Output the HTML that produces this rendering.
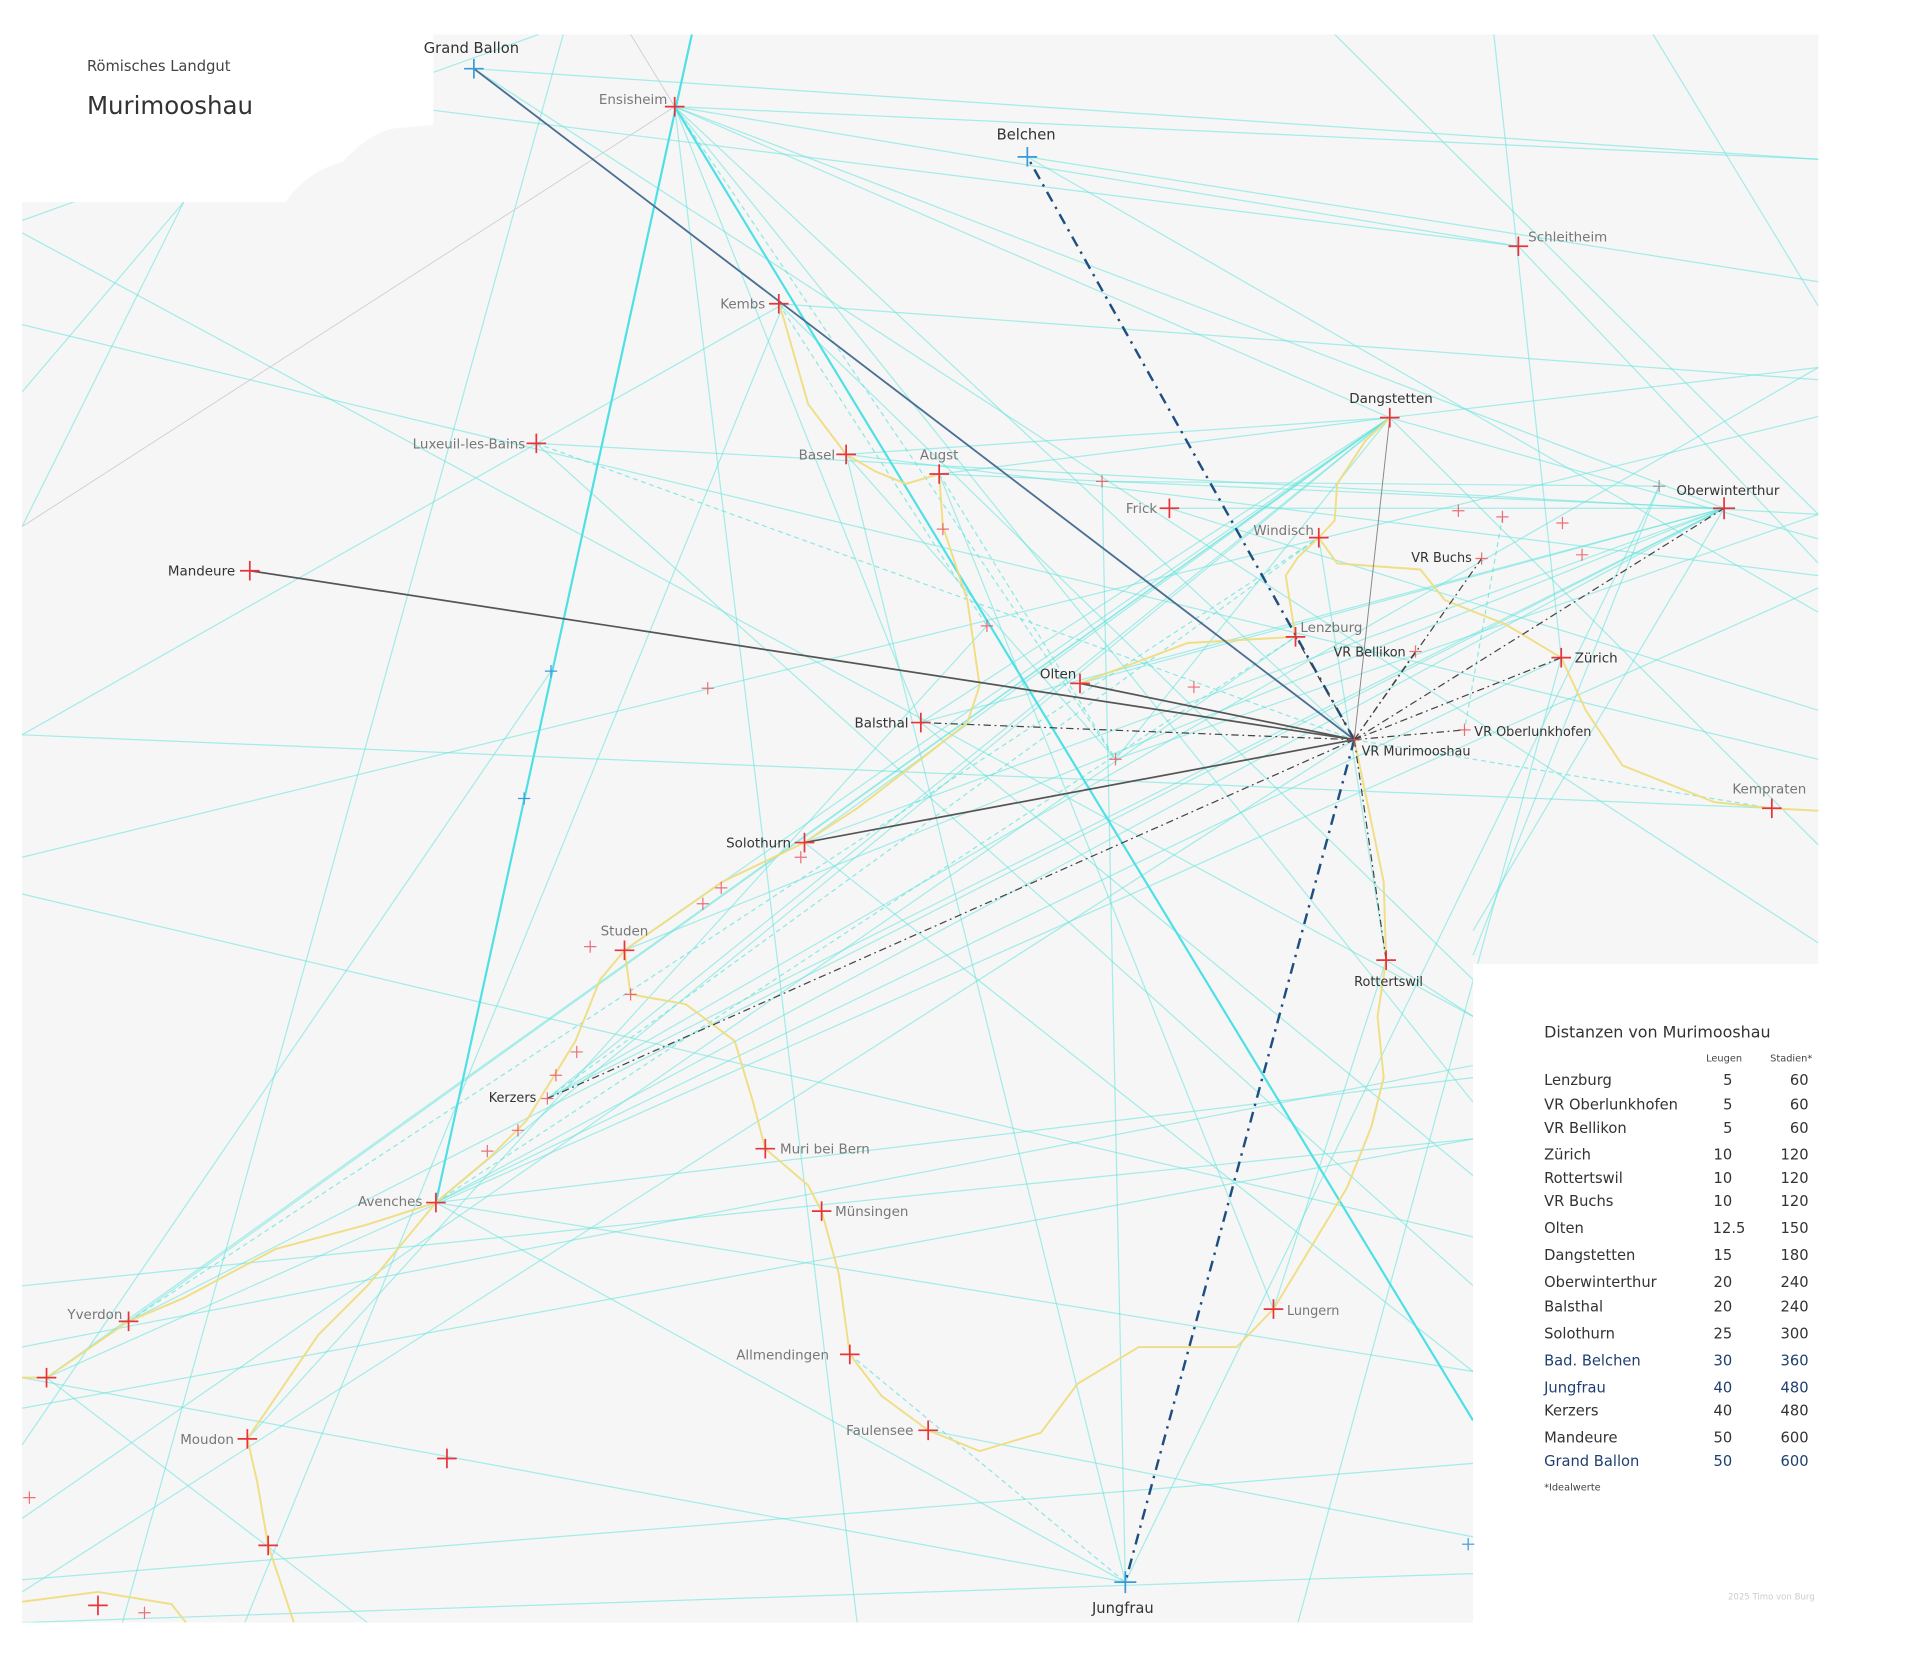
<!DOCTYPE html>
<html><head><meta charset="utf-8"><style>
html,body{margin:0;padding:0;background:#fff;}
svg{display:block;font-family:"DejaVu Sans","Liberation Sans",sans-serif;}
.l{fill:#777;font-size:11px}
.d{fill:#333;font-size:11px}
.c{stroke:#5fe3dc;stroke-width:1;opacity:.55;fill:none}
.cd{stroke:#5fe3dc;stroke-width:1;stroke-dasharray:4 3;opacity:.7;fill:none}
.y{stroke:#f0dc7a;stroke-width:1.6;fill:none;opacity:.9}
.r{stroke:#e8333a;stroke-width:1.4}
.rs{stroke:#e8505a;stroke-width:1;opacity:.8}
.b{stroke:#3a9ad9;stroke-width:1.4}
.g{stroke:#444;stroke-width:1;stroke-dasharray:6 3 1.5 3;fill:none}
.t{font-size:12px;fill:#333}
.tb{font-size:12px;fill:#1f3f70}
</style></head><body>
<svg width="1920" height="1679" viewBox="0 0 1568 1371" xmlns="http://www.w3.org/2000/svg">
<defs><clipPath id="m"><path d="M18,165 L233,165 Q250,140 280,132 Q300,110 320,105 L354,102 L354,28 L1485,28 L1485,787 L1203,787 L1203,1325 L18,1325 Z"/></clipPath></defs>
<path d="M18,165 L233,165 Q250,140 280,132 Q300,110 320,105 L354,102 L354,28 L1485,28 L1485,787 L1203,787 L1203,1325 L18,1325 Z" fill="#f6f6f6"/>
<g clip-path="url(#m)">
<line class="c" x1="18" y1="190" x2="1203" y2="830"/>
<line class="c" x1="18" y1="265" x2="1485" y2="620"/>
<line class="c" x1="18" y1="730" x2="1203" y2="1010"/>
<line class="c" x1="18" y1="1290" x2="1203" y2="1195"/>
<line class="c" x1="18" y1="700" x2="1485" y2="340"/>
<line class="c" x1="18" y1="1100" x2="1203" y2="870"/>
<line class="c" x1="18" y1="1150" x2="1203" y2="930"/>
<line class="c" x1="1090" y1="28" x2="1485" y2="420"/>
<line class="c" x1="1220" y1="28" x2="1275" y2="537"/>
<line class="c" x1="1350" y1="28" x2="1485" y2="250"/>
<line class="c" x1="18" y1="430" x2="150" y2="165"/>
<line class="c" x1="18" y1="320" x2="150" y2="165"/>
<line class="c" x1="18" y1="600" x2="640" y2="248"/>
<line class="c" x1="18" y1="1125" x2="919" y2="1292"/>
<line class="c" x1="38" y1="1125" x2="300" y2="1325"/>
<line class="c" x1="200" y1="1325" x2="640" y2="248"/>
<line class="c" x1="100" y1="1325" x2="460" y2="28"/>
<line class="c" x1="356" y1="982" x2="919" y2="1292"/>
<line class="c" x1="919" y1="1292" x2="900" y2="393"/>
<line class="c" x1="919" y1="1292" x2="691" y2="371"/>
<line class="c" x1="919" y1="1292" x2="1355" y2="397"/>
<line class="c" x1="18" y1="1325" x2="1203" y2="1285"/>
<line class="c" x1="758" y1="1168" x2="1203" y2="1255"/>
<line class="c" x1="438" y1="362" x2="1203" y2="1050"/>
<line class="c" x1="387" y1="56" x2="1485" y2="770"/>
<line class="c" x1="387" y1="56" x2="1485" y2="130"/>
<line class="c" x1="354" y1="90" x2="1240" y2="201"/>
<line class="c" x1="551" y1="87" x2="1485" y2="130"/>
<line class="c" x1="551" y1="87" x2="1240" y2="201"/>
<line class="c" x1="551" y1="87" x2="1408" y2="415"/>
<line class="c" x1="551" y1="87" x2="1135" y2="341"/>
<line class="c" x1="551" y1="87" x2="1106" y2="604"/>
<line class="c" x1="551" y1="87" x2="1203" y2="900"/>
<line class="c" x1="551" y1="87" x2="752" y2="590"/>
<line class="cd" x1="551" y1="87" x2="911" y2="620"/>
<line class="c" x1="551" y1="87" x2="700" y2="1325"/>
<line class="c" x1="839" y1="128" x2="1485" y2="230"/>
<line class="c" x1="839" y1="128" x2="1485" y2="500"/>
<line class="c" x1="1240" y1="201" x2="1485" y2="460"/>
<line class="c" x1="636" y1="248" x2="1485" y2="310"/>
<line class="c" x1="636" y1="248" x2="1203" y2="800"/>
<line class="cd" x1="438" y1="362" x2="1106" y2="604"/>
<line class="c" x1="438" y1="362" x2="1485" y2="420"/>
<line class="c" x1="691" y1="371" x2="1485" y2="470"/>
<line class="c" x1="691" y1="371" x2="1135" y2="341"/>
<line class="c" x1="767" y1="387" x2="1408" y2="415"/>
<line class="c" x1="767" y1="387" x2="1135" y2="341"/>
<line class="c" x1="955" y1="415" x2="1485" y2="580"/>
<line class="c" x1="955" y1="415" x2="1408" y2="415"/>
<line class="c" x1="900" y1="393" x2="1355" y2="397"/>
<line class="c" x1="1135" y1="341" x2="1485" y2="300"/>
<line class="c" x1="1135" y1="341" x2="1485" y2="690"/>
<line class="c" x1="1135" y1="341" x2="1485" y2="440"/>
<line class="c" x1="1355" y1="397" x2="1203" y2="780"/>
<line class="c" x1="1408" y1="415" x2="1203" y2="760"/>
<line class="cd" x1="1227" y1="422" x2="1196" y2="596"/>
<line class="cd" x1="1106" y1="604" x2="1447" y2="660"/>
<line class="c" x1="18" y1="600" x2="1447" y2="660"/>
<line class="c" x1="105" y1="1079" x2="1135" y2="341"/>
<line class="c" x1="105" y1="1079" x2="1408" y2="415"/>
<line class="cd" x1="105" y1="1079" x2="1077" y2="439"/>
<line class="c" x1="38" y1="1125" x2="1135" y2="341"/>
<line class="c" x1="38" y1="1125" x2="1485" y2="480"/>
<line class="c" x1="18" y1="1240" x2="1058" y2="520"/>
<line class="c" x1="356" y1="982" x2="1135" y2="341"/>
<line class="c" x1="356" y1="982" x2="1408" y2="415"/>
<line class="c" x1="356" y1="982" x2="1275" y2="537"/>
<line class="cd" x1="356" y1="982" x2="1058" y2="520"/>
<line class="c" x1="447" y1="897" x2="1135" y2="341"/>
<line class="c" x1="447" y1="897" x2="1408" y2="415"/>
<line class="c" x1="447" y1="897" x2="1485" y2="300"/>
<line class="cd" x1="447" y1="897" x2="1077" y2="439"/>
<line class="c" x1="510" y1="776" x2="1135" y2="341"/>
<line class="c" x1="510" y1="776" x2="1408" y2="415"/>
<line class="c" x1="657" y1="688" x2="1135" y2="341"/>
<line class="c" x1="657" y1="688" x2="1408" y2="415"/>
<line class="c" x1="657" y1="688" x2="1203" y2="1120"/>
<line class="c" x1="752" y1="590" x2="1135" y2="341"/>
<line class="c" x1="752" y1="590" x2="1408" y2="415"/>
<line class="c" x1="752" y1="590" x2="1203" y2="960"/>
<line class="c" x1="882" y1="558" x2="1408" y2="415"/>
<line class="c" x1="911" y1="620" x2="1135" y2="341"/>
<line class="c" x1="911" y1="620" x2="1485" y2="420"/>
<line class="c" x1="1275" y1="537" x2="1060" y2="1325"/>
<line class="c" x1="1132" y1="784" x2="1077" y2="439"/>
<line class="c" x1="1040" y1="1069" x2="1132" y2="784"/>
<line class="c" x1="1132" y1="784" x2="1203" y2="830"/>
<line class="c" x1="18" y1="1300" x2="1106" y2="604"/>
<line class="c" x1="202" y1="1175" x2="806" y2="511"/>
<line class="c" x1="18" y1="1050" x2="1203" y2="930"/>
<line class="c" x1="356" y1="982" x2="1203" y2="880"/>
<line class="c" x1="356" y1="982" x2="1203" y2="1120"/>
<line class="c" x1="767" y1="387" x2="1040" y2="1069"/>
<line class="c" x1="691" y1="371" x2="911" y2="620"/>
<line class="cd" x1="767" y1="387" x2="911" y2="620"/>
<line class="cd" x1="636" y1="248" x2="806" y2="511"/>
<line class="cd" x1="694" y1="1106" x2="919" y2="1292"/>
<line class="c" x1="18" y1="1180" x2="450" y2="548"/>
<line class="c" x1="18" y1="180" x2="440" y2="28"/>
<line style="stroke:#ccc;stroke-width:.7" x1="18" y1="430" x2="551" y2="87"/>
<line style="stroke:#ccc;stroke-width:.7" x1="515" y1="28" x2="551" y2="87"/>
<line x1="565" y1="28" x2="356" y2="982" stroke="#4fe0e6" stroke-width="1.8"/>
<line x1="551" y1="87" x2="1203" y2="1160" stroke="#4fe0e6" stroke-width="1.8"/>
<polyline class="y" points="18,1125 38,1125 105,1079 150,1060 225,1020 300,1000 356,982 400,945 430,915 470,850 490,800 510,776 590,720 657,688 700,660 752,620 790,590 800,560 790,490 770,430 767,387 740,395 715,385 691,371 660,330 640,260 636,248"/>
<polyline class="y" points="882,558 970,525 1058,520 1050,470 1060,455 1077,439 1090,425 1092,395 1115,360 1135,341"/>
<polyline class="y" points="1077,439 1092,460 1160,465 1180,490 1230,510 1275,537 1295,580 1325,625 1400,655 1447,660 1485,662"/>
<polyline class="y" points="510,776 515,812 560,820 600,850 615,900 625,938 660,968 671,989 685,1040 694,1106 720,1140 758,1168 800,1185 850,1170 880,1130 930,1100 1010,1100 1040,1069 1100,970 1120,920 1130,880 1125,830 1132,784 1130,720 1106,604"/>
<polyline class="y" points="356,982 300,1050 260,1090 202,1175 210,1210 219,1262 240,1325"/>
<polyline class="y" points="18,1308 80,1300 140,1310 152,1325"/>
</g>
<line x1="1106" y1="604" x2="387" y2="56" stroke="#4a6f93" stroke-width="1.5"/>
<line x1="1106" y1="604" x2="204" y2="466" stroke="#555" stroke-width="1.4"/>
<line x1="1106" y1="604" x2="657" y2="688" stroke="#555" stroke-width="1.4"/>
<line x1="1106" y1="604" x2="882" y2="558" stroke="#555" stroke-width="1.4"/>
<line x1="1106" y1="604" x2="839" y2="128" stroke="#1f4f80" stroke-width="2" stroke-dasharray="9 5 2 5"/>
<line x1="1106" y1="604" x2="919" y2="1292" stroke="#1f4f80" stroke-width="2" stroke-dasharray="9 5 2 5"/>
<line class="g" x1="1106" y1="604" x2="752" y2="590"/>
<line class="g" x1="1106" y1="604" x2="447" y2="897"/>
<line x1="1106" y1="604" x2="1135" y2="341" style="stroke:#888;stroke-width:.8"/>
<line class="g" x1="1106" y1="604" x2="1408" y2="415"/>
<line class="g" x1="1106" y1="604" x2="1275" y2="537"/>
<line class="g" x1="1106" y1="604" x2="1210" y2="456"/>
<line class="g" x1="1106" y1="604" x2="1196" y2="596"/>
<line class="g" x1="1106" y1="604" x2="1132" y2="784"/>
<line class="g" x1="1106" y1="604" x2="1058" y2="520"/>
<line class="g" x1="1106" y1="604" x2="1156" y2="532"/>
<g class="r">
<path d="M543,87h16M551,79v16 M1232,201h16M1240,193v16 M628,248h16M636,240v16 M1127,341h16M1135,333v16 M430,362h16M438,354v16 M683,371h16M691,363v16 M759,387h16M767,379v16 M1399,415h18M1408,406v18 M947,415h16M955,407v16 M1069,439h16M1077,431v16 M196,466h16M204,458v16 M1050,520h16M1058,512v16 M1267,537h16M1275,529v16 M874,558h16M882,550v16 M744,590h16M752,582v16 M1439,660h16M1447,652v16 M649,688h16M657,680v16 M502,776h16M510,768v16 M1124,784h16M1132,776v16 M617,938h16M625,930v16 M348,982h16M356,974v16 M663,989h16M671,981v16 M1032,1069h16M1040,1061v16 M97,1079h16M105,1071v16 M686,1106h16M694,1098v16 M30,1125h16M38,1117v16 M750,1168h16M758,1160v16 M194,1175h16M202,1167v16 M357,1191h16M365,1183v16 M211,1262h16M219,1254v16 M72,1311h16M80,1303v16"/>
</g>
<g class="rs">
<path d="M895,393h10M900,388v10 M765,432h10M770,427v10 M1186,417h10M1191,412v10 M1222,422h10M1227,417v10 M1271,427h10M1276,422v10 M1287,453h10M1292,448v10 M1205,456h10M1210,451v10 M1151,532h10M1156,527v10 M1191,596h10M1196,591v10 M801,511h10M806,506v10 M573,562h10M578,557v10 M970,561h10M975,556v10 M906,620h10M911,615v10 M649,700h10M654,695v10 M584,725h10M589,720v10 M569,738h10M574,733v10 M477,773h10M482,768v10 M510,812h10M515,807v10 M466,859h10M471,854v10 M449,878h10M454,873v10 M418,923h10M423,918v10 M393,940h10M398,935v10 M442,897h10M447,892v10 M19,1223h10M24,1218v10 M113,1317h10M118,1312v10 M1101,604h10M1106,599v10"/>
<path d="M1350,397h10M1355,392v10" style="stroke:#888"/>
</g>
<g class="b">
<path d="M379,56h16M387,48v16 M831,128h16M839,120v16 M910,1292h18M919,1283v18"/>
<path d="M445,548h10M450,543v10 M423,652h10M428,647v10 M1194,1261h10M1199,1256v10" style="stroke-width:1"/>
</g>
<text x="71" y="58" style="font-size:12px;fill:#444">Römisches Landgut</text>
<text x="71" y="93" style="font-size:20px;fill:#333">Murimooshau</text>
<text class="d" x="385" y="43" text-anchor="middle" style="font-size:12px">Grand Ballon</text>
<text class="l" x="545" y="85" text-anchor="end">Ensisheim</text>
<text class="d" x="838" y="114" text-anchor="middle" style="font-size:12px">Belchen</text>
<text class="l" x="1248" y="197">Schleitheim</text>
<text class="l" x="625" y="252" text-anchor="end">Kembs</text>
<text class="d" x="1136" y="329" text-anchor="middle">Dangstetten</text>
<text class="l" x="429" y="366" text-anchor="end">Luxeuil-les-Bains</text>
<text class="l" x="682" y="375" text-anchor="end">Basel</text>
<text class="l" x="767" y="375" text-anchor="middle">Augst</text>
<text class="d" x="1369" y="404">Oberwinterthur</text>
<text class="l" x="945" y="419" text-anchor="end">Frick</text>
<text class="l" x="1073" y="437" text-anchor="end">Windisch</text>
<text class="d" x="1202" y="459" text-anchor="end" style="font-size:10.5px">VR Buchs</text>
<text class="d" x="192" y="470" text-anchor="end">Mandeure</text>
<text class="l" x="1062" y="516">Lenzburg</text>
<text class="d" x="1148" y="536" text-anchor="end" style="font-size:10.5px">VR Bellikon</text>
<text class="d" x="1286" y="541">Zürich</text>
<text class="d" x="879" y="554" text-anchor="end">Olten</text>
<text class="d" x="742" y="594" text-anchor="end">Balsthal</text>
<text class="d" x="1204" y="601" style="font-size:10.5px">VR Oberlunkhofen</text>
<text class="d" x="1112" y="617" style="font-size:10.5px">VR Murimooshau</text>
<text class="l" x="1445" y="648" text-anchor="middle">Kempraten</text>
<text class="d" x="646" y="692" text-anchor="end">Solothurn</text>
<text class="l" x="510" y="764" text-anchor="middle">Studen</text>
<text class="d" x="1134" y="805" text-anchor="middle" style="font-size:10.5px">Rottertswil</text>
<text class="d" x="438" y="900" text-anchor="end" style="font-size:10.5px">Kerzers</text>
<text class="l" x="637" y="942">Muri bei Bern</text>
<text class="l" x="345" y="985" text-anchor="end">Avenches</text>
<text class="l" x="682" y="993">Münsingen</text>
<text class="l" x="1051" y="1074" style="font-size:10.5px">Lungern</text>
<text class="l" x="100" y="1077" text-anchor="end">Yverdon</text>
<text class="l" x="677" y="1110" text-anchor="end">Allmendingen</text>
<text class="l" x="746" y="1172" text-anchor="end">Faulensee</text>
<text class="l" x="191" y="1179" text-anchor="end">Moudon</text>
<text class="d" x="917" y="1317" text-anchor="middle" style="font-size:12px">Jungfrau</text>
<text x="1261" y="847" style="font-size:13px;fill:#333">Distanzen von Murimooshau</text>
<text x="1408" y="867" text-anchor="middle" style="font-size:8px;fill:#444">Leugen</text>
<text x="1480" y="867" text-anchor="end" style="font-size:8px;fill:#444">Stadien*</text>
<g class="t">
<text x="1261" y="886">Lenzburg</text><text x="1411" y="886" text-anchor="middle">5</text><text x="1477" y="886" text-anchor="end">60</text>
<text x="1261" y="906">VR Oberlunkhofen</text><text x="1411" y="906" text-anchor="middle">5</text><text x="1477" y="906" text-anchor="end">60</text>
<text x="1261" y="925">VR Bellikon</text><text x="1411" y="925" text-anchor="middle">5</text><text x="1477" y="925" text-anchor="end">60</text>
<text x="1261" y="947">Zürich</text><text x="1407" y="947" text-anchor="middle">10</text><text x="1477" y="947" text-anchor="end">120</text>
<text x="1261" y="966">Rottertswil</text><text x="1407" y="966" text-anchor="middle">10</text><text x="1477" y="966" text-anchor="end">120</text>
<text x="1261" y="985">VR Buchs</text><text x="1407" y="985" text-anchor="middle">10</text><text x="1477" y="985" text-anchor="end">120</text>
<text x="1261" y="1007">Olten</text><text x="1412" y="1007" text-anchor="middle">12.5</text><text x="1477" y="1007" text-anchor="end">150</text>
<text x="1261" y="1029">Dangstetten</text><text x="1407" y="1029" text-anchor="middle">15</text><text x="1477" y="1029" text-anchor="end">180</text>
<text x="1261" y="1051">Oberwinterthur</text><text x="1407" y="1051" text-anchor="middle">20</text><text x="1477" y="1051" text-anchor="end">240</text>
<text x="1261" y="1071">Balsthal</text><text x="1407" y="1071" text-anchor="middle">20</text><text x="1477" y="1071" text-anchor="end">240</text>
<text x="1261" y="1093">Solothurn</text><text x="1407" y="1093" text-anchor="middle">25</text><text x="1477" y="1093" text-anchor="end">300</text>
<text x="1261" y="1156">Kerzers</text><text x="1407" y="1156" text-anchor="middle">40</text><text x="1477" y="1156" text-anchor="end">480</text>
<text x="1261" y="1178">Mandeure</text><text x="1407" y="1178" text-anchor="middle">50</text><text x="1477" y="1178" text-anchor="end">600</text>
</g>
<g class="tb">
<text x="1261" y="1115">Bad. Belchen</text><text x="1407" y="1115" text-anchor="middle">30</text><text x="1477" y="1115" text-anchor="end">360</text>
<text x="1261" y="1137">Jungfrau</text><text x="1407" y="1137" text-anchor="middle">40</text><text x="1477" y="1137" text-anchor="end">480</text>
<text x="1261" y="1197">Grand Ballon</text><text x="1407" y="1197" text-anchor="middle">50</text><text x="1477" y="1197" text-anchor="end">600</text>
</g>
<text x="1261" y="1217" style="font-size:8px;fill:#444">*Idealwerte</text>
<text x="1482" y="1306" text-anchor="end" style="font-size:7px;fill:#ccc">2025  Timo von Burg</text>
</svg>
</body></html>
